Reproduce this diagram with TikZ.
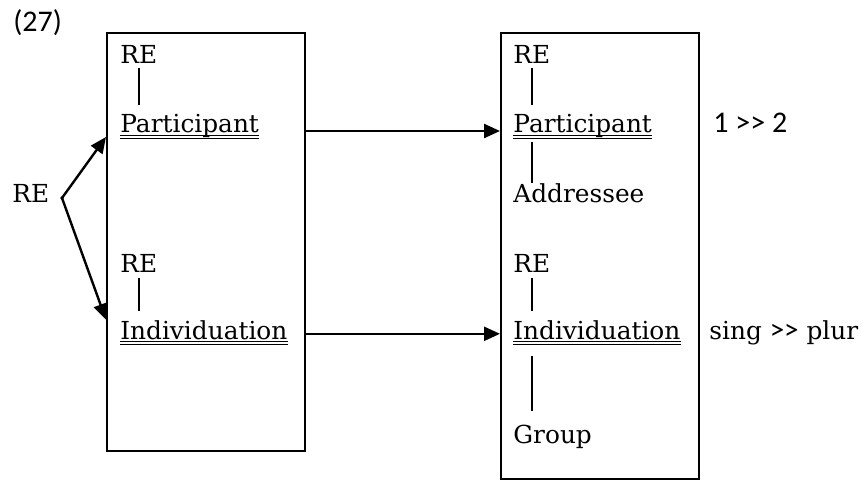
\documentclass[tikz,border=0pt]{standalone}
\usepackage{fontspec}
\setmainfont{DejaVu Serif}
\newfontfamily\calfont{Carlito}
\usetikzlibrary{arrows.meta}

\tikzset{
  txt/.style={anchor=base west, inner sep=0pt, font=\fontsize{12.4}{14}\selectfont},
  numtxt/.style={anchor=base west, inner sep=0pt, font=\calfont\fontsize{15}{17}\selectfont},
  frame/.style={draw, line width=1pt, minimum width=99pt, inner sep=0pt},
  stem/.style={line width=0.75pt},
  uline/.style={line width=0.45pt},
  link/.style={line width=1.2pt, -{Triangle[length=8pt,width=7pt]}},
}

\begin{document}
\begin{tikzpicture}[x=0.5pt,y=-0.5pt]
	\useasboundingbox (0,0) rectangle (864,482);
	% the two frames
	\node[frame, minimum height=209pt] (lbox) at (206,242) {};
	\node[frame, minimum height=223pt] (rbox) at (600,256) {};
	% left frame
	\node[txt] (lre1) at (120,63) {RE};
	\node[txt] (lpart) at (120,133) {Participant};
	\node[txt] (lre2) at (120,272) {RE};
	\node[txt] (lind) at (120,339) {Individuation};
	% right frame
	\node[txt] (rre1) at (513,63) {RE};
	\node[txt] (rpart) at (513,133) {Participant};
	\node[txt] (raddr) at (513,202) {Addressee};
	\node[txt] (rre2) at (513,272) {RE};
	\node[txt] (rind) at (513,339) {Individuation};
	\node[txt] (rgroup) at (513,443) {Group};
	% outside
	\node[numtxt] (exnum) at (13,32) {(27)};
	\node[txt] (re) at (12,202) {RE};
	\node[numtxt] (rank1) at (713,133) {1 >\kern0pt> 2};
	\node[txt] (rank2) at (709,339) {sing {\calfont\fontsize{14.5}{16}\selectfont>\kern0pt>} plur};
	% stems
	\draw[stem] ([yshift=-2.5pt]lre1.south) -- ([yshift=4.5pt]lre1.south |- lpart.north);
	\draw[stem] ([yshift=-3pt]lre2.south) -- ([yshift=4.5pt]lre2.south |- lind.north);
	\draw[stem] ([yshift=-2.5pt]rre1.south) -- ([yshift=4.5pt]rre1.south |- rpart.north);
	\draw[stem] ([yshift=-1.6pt]rre1.south |- rpart.south) -- (rre1.south |- raddr.north);
	\draw[stem] ([yshift=-3pt]rre2.south) -- ([yshift=4.5pt]rre2.south |- rind.north);
	\draw[stem] ([yshift=-8pt]rre2.south |- rind.south) -- ([yshift=6.5pt]rre2.south |- rgroup.north);
	% double underlines
	\foreach \n in {lpart,lind,rpart,rind}{
		\draw[uline] ([yshift=-1pt]\n.base west) -- ([yshift=-1pt]\n.base east);
		\draw[uline] ([yshift=-2.6pt]\n.base west) -- ([yshift=-2.6pt]\n.base east);
	}
	% arrows
	\coordinate (fork) at (62,198);
	\fill (fork) circle (0.9pt);
	\draw[link] (fork) -- ([yshift=-2pt]lbox.west |- lpart.base);
	\draw[link] (fork) -- (lbox.west |- lind.north);
	\draw[link] ([yshift=1pt]lbox.east |- lpart.base) -- ([yshift=1pt]rbox.west |- lpart.base);
	\draw[link] (lbox.east |- lind.mid) -- (rbox.west |- lind.mid);
\end{tikzpicture}
\end{document}
